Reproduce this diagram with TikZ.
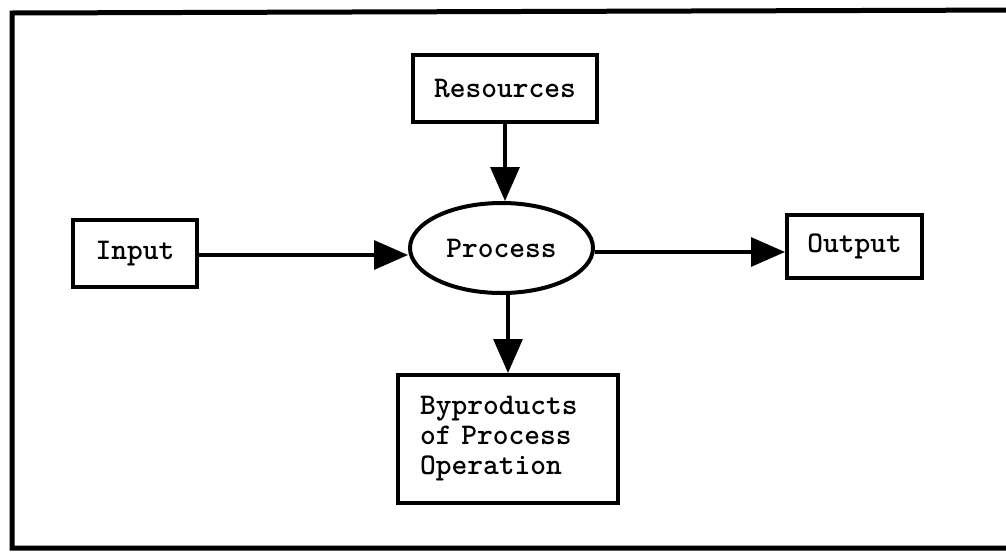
\documentclass[tikz,border=0pt]{standalone}
\usetikzlibrary{arrows.meta,shapes.geometric}

\begin{document}
\begin{tikzpicture}[x=1pt,y=-1pt,
  every node/.style={font=\ttfamily\bfseries\fontsize{30}{30}\selectfont},
  box/.style={draw,line width=4pt,inner sep=0pt,align=center},
  flow/.style={line width=3.2pt,-{Triangle[length=34pt,width=29pt]}}]
  \useasboundingbox (0,0) rectangle (1006,552);
  % outer frame (right edge runs past the page)
  \draw[line width=5pt] (1030,10) -- (12,13) -- (12,548) -- (1030,548);

  \node[box,minimum width=184pt,minimum height=67pt] (res) at (505,88.5) {Resources};
  \node[box,minimum width=124pt,minimum height=67pt] (in) at (135,253.5) {Input};
  \node[box,minimum width=135pt,minimum height=63pt] (out) at (854.5,246.5) {Output};
  \node[draw,line width=4pt,ellipse,inner sep=0pt,minimum width=183pt,minimum height=90pt] (proc) at (501.5,248) {Process};
  \node[box,align=left,text width=176pt,inner xsep=22pt,minimum height=128pt] (byp) at (508,439)
    {Byproducts\\of Process\\Operation};

  \draw[flow] (in.east |- 0,255) -- (proc.west |- 0,255);
  \draw[flow] (proc.east |- 0,252) -- (out.west |- 0,252);
  \draw[flow] (res.south) -- (res.south |- proc.north);
  \draw[flow] (proc.south -| byp.north) -- (byp.north);
\end{tikzpicture}
\end{document}
